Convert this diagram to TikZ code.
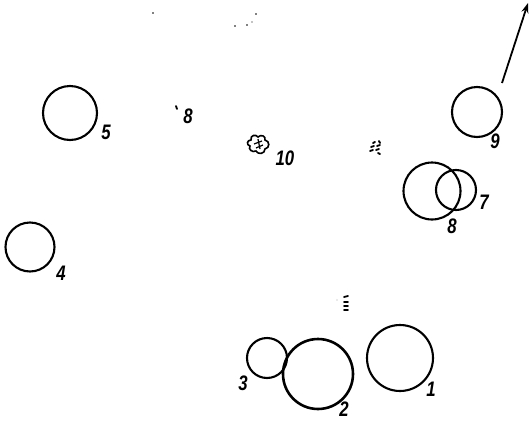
\documentclass[tikz,border=0pt]{standalone}
\usepackage{fontspec}
\setmainfont{Liberation Sans}
\usetikzlibrary{arrows.meta}
\begin{document}
\begin{tikzpicture}[x=1pt,y=-1pt,
  ring/.style={draw,circle,inner sep=0pt,line width=2.1pt},
  lbl/.style={font=\fontsize{21}{21}\selectfont\bfseries\itshape,inner sep=0pt,xscale=0.8},
  speck/.style={line width=1.8pt,line cap=round}]
\useasboundingbox (0,0) rectangle (531,421);
% circles
\node[ring,minimum size=66pt] (c1) at (400,358) {};
\node[ring,minimum size=70pt,line width=2.6pt] (c2) at (318,374) {};
\node[ring,minimum size=40pt] (c3) at (267,358) {};
\node[ring,minimum size=49pt] (c4) at (30,247) {};
\node[ring,minimum size=54pt] (c5) at (70,113) {};
\node[ring,minimum size=40pt] (c7) at (456,190) {};
\node[ring,minimum size=57pt] (c8) at (432,191) {};
\node[ring,minimum size=50pt] (c9) at (477,112) {};
% labels
\node[lbl] (l1) at (431,389) {1};
\node[lbl] (l2) at (344,409) {2};
\node[lbl] (l3) at (243,383) {3};
\node[lbl] (l4) at (61,273) {4};
\node[lbl] (l5) at (106,132) {5};
\node[lbl] (l7) at (484,202) {7};
\node[lbl] (l8) at (452,226) {8};
\node[lbl] (l9) at (495,141) {9};
\node[lbl] (l8b) at (188,116) {8};
\node[lbl] (l10) at (285,158) {10};
% arrow
\coordinate (a0) at (502,83);
\coordinate (a1) at (528,3);
\draw[line width=1.8pt,-{Stealth[length=10pt,width=7pt]}] (a0) -- (a1);
% tick before 8
\draw[speck] (176,106) -- (177,109);
% blob near 10
\draw[line width=1.6pt] (251,140) .. controls (250,135) and (256,134) .. (258,137)
  .. controls (261,134) and (266,136) .. (265,140)
  .. controls (270,141) and (270,148) .. (265,149)
  .. controls (265,154) and (258,155) .. (256,151)
  .. controls (252,153) and (248,149) .. (250,146)
  .. controls (246,145) and (247,140) .. (251,140) -- cycle;
\draw[line width=1.2pt] (254,144) -- (262,141) (256,148) -- (263,145) (258,139) -- (260,149);
% specks at top
\fill (153,13) circle (0.9pt);
\fill (256,14) circle (0.9pt);
\fill (235,26) circle (0.8pt);
\fill (247,25) circle (0.9pt);
\fill (252,22) circle (0.6pt);
% hatch marks
\draw[speck] (373,143) -- (375,142) (371,147) -- (374,146) (370,151) -- (373,150)
  (379,141) -- (380,143) (377,146) -- (380,145) (376,150) -- (379,149) (378,153) -- (380,154);
\draw[speck] (344,297) -- (348,296) (344,302) -- (348,302) (344,306) -- (348,306) (344,310) -- (348,310);
\fill (337,300) circle (0.4pt);
\end{tikzpicture}
\end{document}
